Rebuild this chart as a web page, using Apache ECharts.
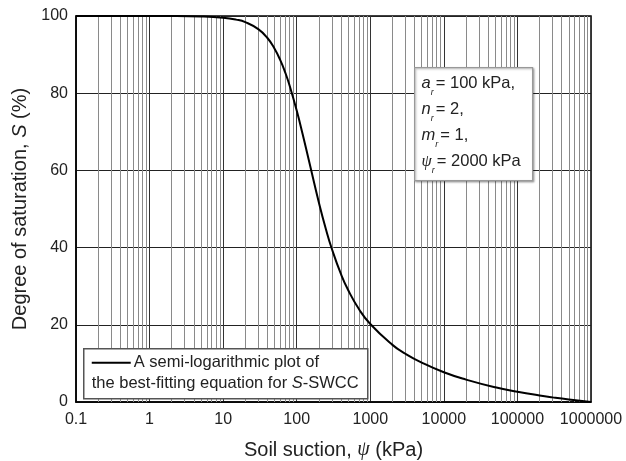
<!DOCTYPE html>
<html>
<head>
<meta charset="utf-8">
<script src="https://cdn.jsdelivr.net/npm/echarts@6/dist/echarts.min.js"></script>
<style>
  html, body { margin: 0; padding: 0; background: #fff; }
  #main { width: 626px; height: 461px; }
</style>
</head>
<body>
<div id="main"></div>
<script>
// 土壤吸力 (kPa) 与饱和度 (%)
const suction = [0.1, 1, 2, 5, 10, 15, 20, 30, 40, 50, 60, 70, 80, 100, 120, 150, 200, 250, 300, 400, 500, 700,
  1000, 2000, 3000, 5000, 10000, 20000, 50000, 100000, 200000, 300000, 500000, 1000000];
const saturation = [100, 99.99, 99.98, 99.87, 99.55, 99.06, 98.4, 96.6, 94.3, 91.5, 88.5, 85.3, 82.0, 75.5, 69.5, 61.7, 51.7, 44.7, 39.7, 33.1, 29.0, 24.1,
  20.2, 14.8, 12.5, 10.2, 7.7, 5.8, 3.8, 2.66, 1.69, 1.2, 0.65, 0];
const yTicks = [0, 20, 40, 60, 80, 100];
// 对数网格的次刻度 (2..9 × 每个十倍程)
const decades = [0.1, 1, 10, 100, 1000, 10000, 100000];
const minorGrid = [];
decades.forEach(d => { for (let k = 2; k <= 9; k++) minorGrid.push(+(d * k).toPrecision(6)); });

const font = 'Arial, "Liberation Sans", sans-serif';
const chart = echarts.init(document.getElementById('main'));

const option = {
  animation: false,
  grid: {
    left: 76, right: 35, top: 16, bottom: 59, containLabel: false, outerBoundsMode: 'none',
    show: true, borderColor: '#000', borderWidth: 1.5
  },
  xAxis: {
    type: 'log', logBase: 10, min: 0.1, max: 1000000, splitNumber: 7,
    name: '{n|Soil suction, }{i|ψ}{n| (kPa)}',
    nameLocation: 'middle', nameGap: 38,
    nameTextStyle: { rich: { n: { fontFamily: font, fontSize: 20, color: '#222' }, i: { fontFamily: 'serif', fontStyle: 'italic', fontSize: 20, color: '#222' } } },
    axisLine: { show: true, lineStyle: { color: '#000', width: 1.5 } },
    axisTick: { show: false },
    axisLabel: { fontFamily: font, fontSize: 16, color: '#222', margin: 10, formatter: v => String(+(+v).toPrecision(6)) },
    splitLine: { show: true, lineStyle: { color: '#333', width: 1 } }
  },
  yAxis: {
    type: 'value', min: yTicks[0], max: yTicks[yTicks.length - 1], interval: 20,
    name: '{n|Degree of saturation, }{i|S}{n| (%)}',
    nameLocation: 'middle', nameGap: 42, nameRotate: 90,
    nameTextStyle: { rich: { n: { fontFamily: font, fontSize: 20, color: '#222' }, i: { fontFamily: font, fontStyle: 'italic', fontSize: 20, color: '#222' } } },
    axisLine: { show: true, lineStyle: { color: '#000', width: 1.5 } },
    axisTick: { show: false },
    axisLabel: { fontFamily: font, fontSize: 16, color: '#222', margin: 8 },
    splitLine: { show: true, lineStyle: { color: '#222', width: 1 } }
  },
  series: [
    {
      type: 'line', data: [], z: 1, silent: true,
      markLine: {
        silent: true, symbol: 'none', label: { show: false },
        lineStyle: { color: '#8a8a8a', width: 1, type: 'solid' },
        data: minorGrid.map(v => ({ xAxis: v }))
      }
    },
    {
      name: 'S-SWCC', type: 'line', z: 5, smooth: true, showSymbol: false,
      lineStyle: { color: '#000', width: 2 },
      data: suction.map((x, i) => [x, saturation[i]])
    }
  ],
  graphic: [
    {
      type: 'group', left: 83, top: 348,
      children: [
        { type: 'rect', z: 100, shape: { x: 0, y: 0, width: 284, height: 50 }, style: { fill: '#fff', stroke: '#555', lineWidth: 1.5 } },
        { type: 'line', z: 101, shape: { x1: 8, y1: 14, x2: 47, y2: 14 }, style: { stroke: '#000', lineWidth: 2 } },
        {
          type: 'text', z: 101, x: 50, y: 14,
          style: { text: 'A semi-logarithmic plot of', font: '16.5px ' + font, fill: '#222', verticalAlign: 'middle' }
        },
        {
          type: 'text', z: 101, x: 8, y: 35,
          style: {
            text: '{n|the best-fitting equation for }{i|S}{n|-SWCC}', verticalAlign: 'middle',
            rich: { n: { font: '16.5px ' + font, fill: '#222' }, i: { font: 'italic 16.5px ' + font, fill: '#222' } }
          }
        }
      ]
    },
    {
      type: 'group', left: 414, top: 67,
      children: [
        { type: 'rect', z: 100, shape: { x: 0, y: 0, width: 118, height: 113 }, style: { fill: '#fff', stroke: '#999', lineWidth: 1.2, shadowBlur: 2, shadowColor: 'rgba(0,0,0,0.3)', shadowOffsetX: 1, shadowOffsetY: 1 } },
        {
          type: 'text', z: 101, x: 7, y: 3,
          style: {
            text: '{i|a}{s|r}{n|= 100 kPa,}\n{i|n}{s|r}{n|= 2,}\n{i|m}{s|r}{n|= 1,}\n{p|ψ}{s|r}{n|= 2000 kPa}',
            rich: {
              n: { font: '16.5px ' + font, fill: '#222', lineHeight: 26, padding: [0, 0, 0, 2] },
              i: { font: 'italic 16.5px ' + font, fill: '#222', lineHeight: 26 },
              p: { font: 'italic 16.5px serif', fill: '#222', lineHeight: 26 },
              s: { font: 'italic 9px ' + font, fill: '#222', lineHeight: 12, verticalAlign: 'bottom' }
            }
          }
        }
      ]
    }
  ]
};
chart.setOption(option);
</script>
</body>
</html>
